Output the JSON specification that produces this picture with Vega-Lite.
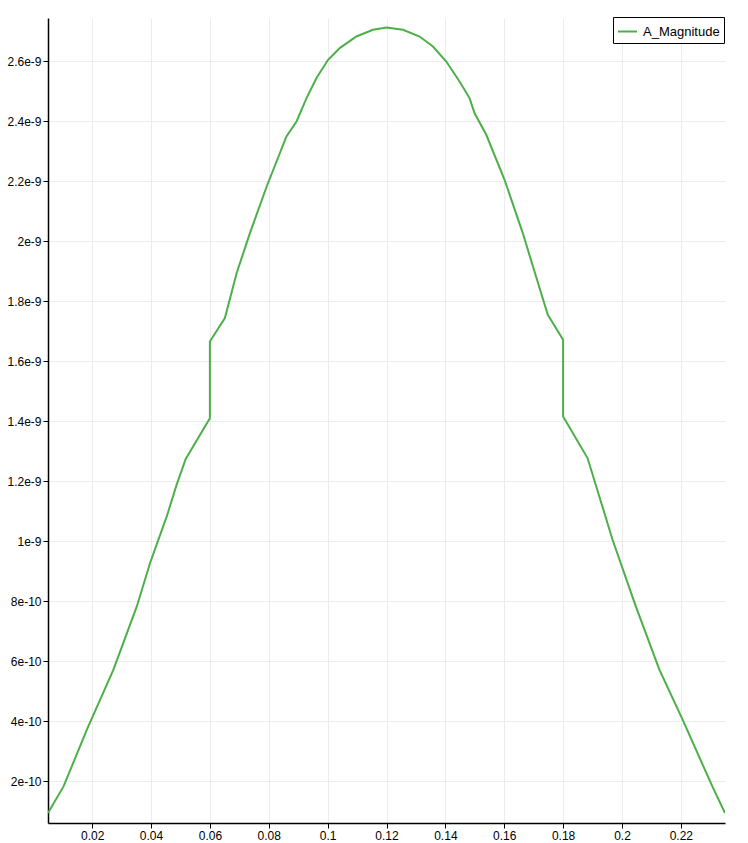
{
  "$schema": "https://vega.github.io/schema/vega-lite/v6.json",
  "width": 677,
  "height": 805,
  "autosize": {"type": "none"},
  "padding": {"left": 48, "top": 18, "right": 23, "bottom": 20},
  "background": "white",
  "config": {"view": {"stroke": null}, "font": "Liberation Sans"},
  "data": {
    "values": [
      {"i": 0, "x": 0.005, "y": 0.0947e-9, "s": "A_Magnitude"},
      {"i": 1, "x": 0.01028, "y": 0.1833e-9, "s": "A_Magnitude"},
      {"i": 2, "x": 0.01821, "y": 0.3723e-9, "s": "A_Magnitude"},
      {"i": 3, "x": 0.02723, "y": 0.5723e-9, "s": "A_Magnitude"},
      {"i": 4, "x": 0.03517, "y": 0.7833e-9, "s": "A_Magnitude"},
      {"i": 5, "x": 0.03968, "y": 0.928e-9, "s": "A_Magnitude"},
      {"i": 6, "x": 0.04534, "y": 1.0833e-9, "s": "A_Magnitude"},
      {"i": 7, "x": 0.04874, "y": 1.19e-9, "s": "A_Magnitude"},
      {"i": 8, "x": 0.05179, "y": 1.2747e-9, "s": "A_Magnitude"},
      {"i": 9, "x": 0.06, "y": 1.411e-9, "s": "A_Magnitude"},
      {"i": 10, "x": 0.06, "y": 1.6667e-9, "s": "A_Magnitude"},
      {"i": 11, "x": 0.0651, "y": 1.7447e-9, "s": "A_Magnitude"},
      {"i": 12, "x": 0.0691, "y": 1.8947e-9, "s": "A_Magnitude"},
      {"i": 13, "x": 0.0736, "y": 2.028e-9, "s": "A_Magnitude"},
      {"i": 14, "x": 0.0793, "y": 2.1833e-9, "s": "A_Magnitude"},
      {"i": 15, "x": 0.086, "y": 2.35e-9, "s": "A_Magnitude"},
      {"i": 16, "x": 0.08944, "y": 2.4e-9, "s": "A_Magnitude"},
      {"i": 17, "x": 0.09283, "y": 2.478e-9, "s": "A_Magnitude"},
      {"i": 18, "x": 0.09622, "y": 2.5447e-9, "s": "A_Magnitude"},
      {"i": 19, "x": 0.10015, "y": 2.6057e-9, "s": "A_Magnitude"},
      {"i": 20, "x": 0.10412, "y": 2.6447e-9, "s": "A_Magnitude"},
      {"i": 21, "x": 0.10978, "y": 2.6833e-9, "s": "A_Magnitude"},
      {"i": 22, "x": 0.11541, "y": 2.7057e-9, "s": "A_Magnitude"},
      {"i": 23, "x": 0.12, "y": 2.7133e-9, "s": "A_Magnitude"},
      {"i": 24, "x": 0.12559, "y": 2.7057e-9, "s": "A_Magnitude"},
      {"i": 25, "x": 0.13125, "y": 2.6833e-9, "s": "A_Magnitude"},
      {"i": 26, "x": 0.13577, "y": 2.65e-9, "s": "A_Magnitude"},
      {"i": 27, "x": 0.14031, "y": 2.6e-9, "s": "A_Magnitude"},
      {"i": 28, "x": 0.14482, "y": 2.5333e-9, "s": "A_Magnitude"},
      {"i": 29, "x": 0.14821, "y": 2.478e-9, "s": "A_Magnitude"},
      {"i": 30, "x": 0.1499, "y": 2.428e-9, "s": "A_Magnitude"},
      {"i": 31, "x": 0.1539, "y": 2.3557e-9, "s": "A_Magnitude"},
      {"i": 32, "x": 0.1601, "y": 2.2057e-9, "s": "A_Magnitude"},
      {"i": 33, "x": 0.1663, "y": 2.028e-9, "s": "A_Magnitude"},
      {"i": 34, "x": 0.1708, "y": 1.8833e-9, "s": "A_Magnitude"},
      {"i": 35, "x": 0.1748, "y": 1.7557e-9, "s": "A_Magnitude"},
      {"i": 36, "x": 0.18, "y": 1.6723e-9, "s": "A_Magnitude"},
      {"i": 37, "x": 0.18, "y": 1.4167e-9, "s": "A_Magnitude"},
      {"i": 38, "x": 0.1883, "y": 1.278e-9, "s": "A_Magnitude"},
      {"i": 39, "x": 0.1923, "y": 1.15e-9, "s": "A_Magnitude"},
      {"i": 40, "x": 0.1968, "y": 1.0057e-9, "s": "A_Magnitude"},
      {"i": 41, "x": 0.2047, "y": 0.7833e-9, "s": "A_Magnitude"},
      {"i": 42, "x": 0.2127, "y": 0.5723e-9, "s": "A_Magnitude"},
      {"i": 43, "x": 0.2206, "y": 0.4057e-9, "s": "A_Magnitude"},
      {"i": 44, "x": 0.2307, "y": 0.1833e-9, "s": "A_Magnitude"},
      {"i": 45, "x": 0.235, "y": 0.0947e-9, "s": "A_Magnitude"}
    ]
  },
  "mark": {"type": "line", "strokeWidth": 2, "clip": true},
  "encoding": {
    "x": {
      "field": "x",
      "type": "quantitative",
      "scale": {"domain": [0.005, 0.235], "nice": false, "zero": false},
      "axis": {
        "title": null,
        "values": [0.02, 0.04, 0.06, 0.08, 0.1, 0.12, 0.14, 0.16, 0.18, 0.2, 0.22],
        "format": "~g",
        "domainColor": "black",
        "domainWidth": 1.5,
        "tickColor": "black",
        "tickSize": 5,
        "labelColor": "black",
        "labelFontSize": 12,
        "labelPadding": 2,
        "grid": true,
        "gridColor": "#ececec",
        "gridWidth": 1
      }
    },
    "y": {
      "field": "y",
      "type": "quantitative",
      "scale": {"domain": [6.13e-11, 2.745e-9], "nice": false, "zero": false},
      "axis": {
        "title": null,
        "values": [2e-10, 4e-10, 6e-10, 8e-10, 1e-9, 1.2e-9, 1.4e-9, 1.6e-9, 1.8e-9, 2e-9, 2.2e-9, 2.4e-9, 2.6e-9],
        "format": "~e",
        "domainColor": "black",
        "domainWidth": 1.5,
        "tickColor": "black",
        "tickSize": 5,
        "labelColor": "black",
        "labelFontSize": 12,
        "labelPadding": 2,
        "grid": true,
        "gridColor": "#ececec",
        "gridWidth": 1
      }
    },
    "order": {"field": "i", "type": "quantitative"},
    "color": {
      "field": "s",
      "type": "nominal",
      "scale": {"range": ["#4daf4a"]},
      "legend": {
        "title": null,
        "orient": "none",
        "legendX": 565,
        "legendY": -1,
        "strokeColor": "black",
        "fillColor": "white",
        "padding": 4,
        "symbolType": "stroke",
        "symbolSize": 361,
        "symbolStrokeWidth": 2,
        "labelFontSize": 13,
        "labelColor": "black",
        "labelOffset": 5
      }
    }
  }
}
